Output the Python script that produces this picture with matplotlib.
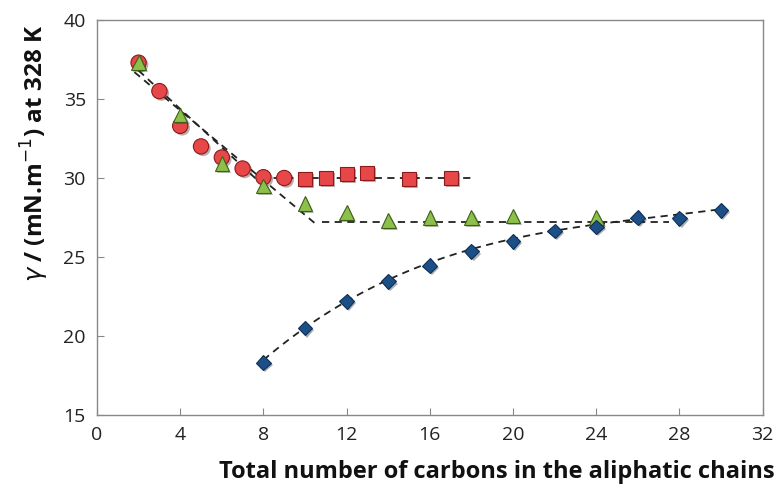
import numpy as np
import matplotlib
matplotlib.use('Agg')
import matplotlib.pyplot as plt
import matplotlib.patheffects as pe

# data
circ_x = [2, 3, 4, 5, 6, 7, 8, 9]
circ_y = [37.3, 35.5, 33.3, 32.0, 31.3, 30.6, 30.05, 30.0]
sq_x = [10, 11, 12, 13, 15, 17]
sq_y = [29.95, 30.0, 30.25, 30.3, 29.95, 30.0]
tri_x = [2, 4, 6, 8, 10, 12, 14, 16, 18, 20, 24]
tri_y = [37.3, 34.0, 30.9, 29.5, 28.4, 27.8, 27.3, 27.5, 27.5, 27.6, 27.5]
dia_x = [8, 10, 12, 14, 16, 18, 20, 22, 24, 26, 28, 30]
dia_y = [18.3, 20.5, 22.2, 23.45, 24.45, 25.35, 26.0, 26.65, 26.9, 27.5, 27.45, 27.95]

# dashed trend lines
red_line_x = [2, 7.6, 18]
red_line_y = [36.8, 30.0, 30.0]
green_steep_x = [1.8, 10.6]
green_steep_y = [36.7, 27.0]
green_flat_x = [10.8, 27.5]
green_flat_y = [27.2, 27.2]

xticks = [0, 4, 8, 12, 16, 20, 24, 28, 32]
yticks = [15, 20, 25, 30, 35, 40]

plt.rcParams['font.family'] = ['Open Sans', 'DejaVu Sans']

fig = plt.figure(figsize=(7.79, 5.0), dpi=100)
ax = fig.add_axes([0.1245, 0.17, 0.8545, 0.79])

shadow = [pe.SimplePatchShadow(offset=(1.5, -1.5), alpha=0.35), pe.Normal()]
dash = dict(color='#222222', lw=1.3, dashes=(4, 3), zorder=2)

ax.plot(red_line_x, red_line_y, **dash)
ax.plot(green_steep_x, green_steep_y, **dash)
ax.plot(green_flat_x, green_flat_y, **dash)

# trend curve for the diamonds, fitted to the diamond values
coef = np.polyfit(dia_x, dia_y, 3)
fx = np.linspace(8, 30, 100)
ax.plot(fx, np.polyval(coef, fx) + 0.1, **dash)

ax.plot(circ_x, circ_y, 'o', ms=11, mfc='#E8474A', mec='#8B1A1A', mew=0.8,
        ls='none', zorder=3, path_effects=shadow)
ax.plot(sq_x, sq_y, 's', ms=10, mfc='#E8474A', mec='#8B1A1A', mew=0.8,
        ls='none', zorder=3, path_effects=shadow)
ax.plot(tri_x, tri_y, '^', ms=10.5, mfc='#8DC04B', mec='#3E5F1A', mew=0.8,
        ls='none', zorder=4, path_effects=shadow)
ax.plot(dia_x, dia_y, 'D', ms=7.5, mfc='#1B4F85', mec='#0E2F55', mew=0.8,
        ls='none', zorder=4, path_effects=shadow)

ax.set_xlim(0, 32)
ax.set_ylim(15, 40)
ax.set_xticks(xticks)
ax.set_yticks(yticks)
ax.tick_params(direction='in', length=5, color='#888888', labelsize=14,
               labelcolor='#222222', pad=8)
for s in ax.spines.values():
    s.set_color('#888888')
    s.set_linewidth(1.0)

fig.text(775 / 779, 1 - 472 / 500, 'Total number of carbons in the aliphatic chains',
         fontsize=17, fontweight='bold', ha='right', va='center', color='#111111')
fig.text(35 / 779, 1 - 153 / 500, r'$\gamma$ / (mN.m$^{-1}$) at 328 K',
         fontsize=17.5, fontweight='bold', rotation=90, ha='center', va='center',
         color='#111111')

fig.savefig('out.png', dpi=100)
